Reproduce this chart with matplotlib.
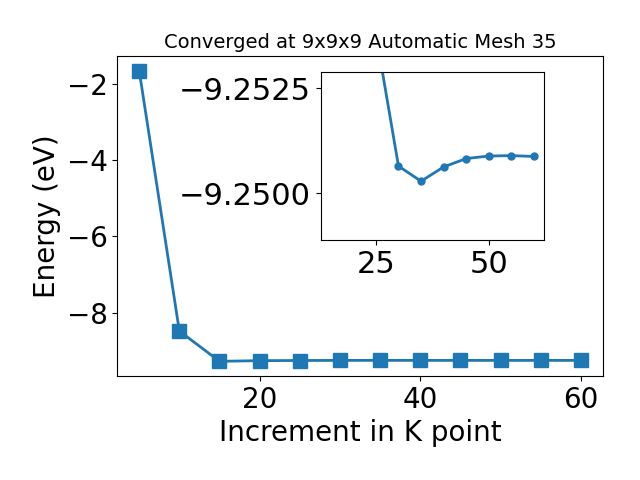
import matplotlib
matplotlib.use("Agg")
import matplotlib.pyplot as plt

kpoints = [5, 10, 15, 20, 25, 30, 35, 40, 45, 50, 55, 60]
energy = [-1.65, -8.48, -9.275, -9.258, -9.2538, -9.25065, -9.25029,
          -9.25063, -9.25083, -9.25089, -9.25090, -9.25088]

fs = 20
fig = plt.figure(figsize=(6.4, 4.8), dpi=100)
ax = fig.add_axes([0.183, 0.217, 0.759, 0.666])
ax.plot(kpoints, energy, marker='s', markersize=10, linewidth=2, color='#1f77b4')
ax.set_xlabel('Increment in K point', fontsize=fs)
ax.set_ylabel('Energy (eV)', fontsize=fs)
ax.set_title('Converged at 9x9x9 Automatic Mesh 35', fontsize=14)
ax.tick_params(labelsize=fs)

ins = fig.add_axes([0.501, 0.5, 0.349, 0.349])
ins.plot(kpoints[2:], energy[2:], marker='o', markersize=5, linewidth=2, color='#1f77b4')
ins.set_ylim(-9.24889, -9.25288)
ins.set_yticks([-9.2525, -9.2500])
ins.set_xticks([25, 50])
ins.tick_params(labelsize=22)

fig.savefig('out.png', dpi=100)
